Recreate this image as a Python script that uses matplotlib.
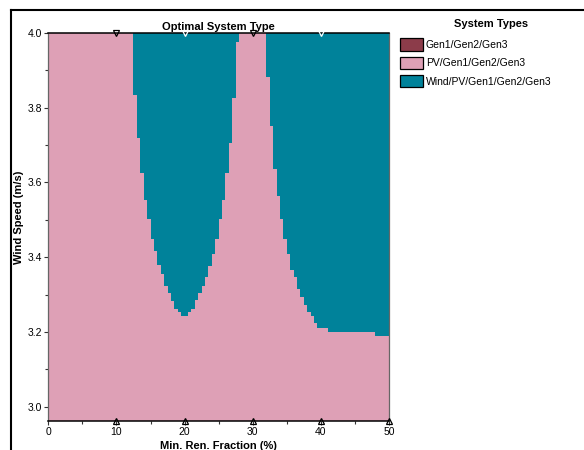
import matplotlib
matplotlib.use("Agg")
import matplotlib.pyplot as plt
from matplotlib.patches import Patch
from matplotlib.lines import Line2D

plt.rcParams['font.family'] = ['Liberation Sans', 'DejaVu Sans']

# ---- data ----
title = "Optimal System Type"
x_label = "Min. Ren. Fraction (%)"
y_label = "Wind Speed (m/s)"
legend_title = "System Types"
system_types = ["Gen1/Gen2/Gen3", "PV/Gen1/Gen2/Gen3", "Wind/PV/Gen1/Gen2/Gen3"]

x_range = [0, 50]
y_range = [2.963, 4.0]

# Wind/PV/Gen region 1: column edges (Min. Ren. Fraction) and the lowest wind speed
# at which Wind/PV/Gen1/Gen2/Gen3 is optimal in each column
wind_a_edges = [12.5, 13.0, 13.5, 14.0, 14.5, 15.0, 15.5, 16.0, 16.5, 17.0, 17.5,
                18.0, 18.5, 19.0, 19.5, 20.5, 21.0, 21.5, 22.0, 22.5, 23.0, 23.5,
                24.0, 24.5, 25.0, 25.5, 26.0, 26.5, 27.0, 27.5, 28.0]
wind_a_min_speed = [3.833, 3.718, 3.626, 3.553, 3.502, 3.448, 3.417, 3.379, 3.355,
                    3.324, 3.303, 3.284, 3.261, 3.253, 3.243, 3.253, 3.262, 3.285,
                    3.305, 3.323, 3.348, 3.377, 3.408, 3.448, 3.502, 3.553, 3.626,
                    3.706, 3.825, 3.976]

# Wind/PV/Gen region 2
wind_b_edges = [32.0, 32.5, 33.0, 33.5, 34.0, 34.5, 35.0, 35.5, 36.0, 36.5, 37.0,
                37.5, 38.0, 38.5, 39.0, 39.5, 41.0, 48.0, 50.0]
wind_b_min_speed = [3.882, 3.751, 3.637, 3.564, 3.503, 3.448, 3.408, 3.367, 3.346,
                    3.316, 3.293, 3.272, 3.253, 3.243, 3.223, 3.212, 3.200, 3.189]

# sensitivity case markers
top_marker_x = [10, 20, 30, 40]
bottom_marker_x = [10, 20, 30, 40, 50]

x_ticks = [0, 10, 20, 30, 40, 50]
y_ticks = [3.0, 3.2, 3.4, 3.6, 3.8, 4.0]

# ---- styles ----
c_gen = "#8C3C4A"
c_pv = "#DEA0B6"
c_wind = "#00829A"

W, H = 584, 450
fig = plt.figure(figsize=(W / 100, H / 100), dpi=100)
ax_l, ax_r, ax_t, ax_b = 48.3, 389.0, 32.7, 420.7
ax = fig.add_axes([ax_l / W, 1 - ax_b / H, (ax_r - ax_l) / W, (ax_b - ax_t) / H])

ax.set_facecolor(c_pv)
ax.stairs(wind_a_min_speed, wind_a_edges, baseline=y_range[1], fill=True,
          color=c_wind, linewidth=0)
ax.stairs(wind_b_min_speed, wind_b_edges, baseline=y_range[1], fill=True,
          color=c_wind, linewidth=0)

ax.set_xlim(*x_range)
ax.set_ylim(*y_range)

# markers
top_edges = ['black', 'white', 'black', 'white']
for xv, ec in zip(top_marker_x, top_edges):
    ax.plot([xv], [y_range[1]], marker='v', ms=4.5, mfc='none', mec=ec, mew=0.9,
            clip_on=False, zorder=5)
for xv in bottom_marker_x:
    ax.plot([xv], [y_range[0]], marker='^', ms=4.5, mfc='none', mec='black', mew=0.9,
            clip_on=False, zorder=5)

ax.set_xticks(x_ticks)
ax.set_xticks([5, 15, 25, 35, 45], minor=True)
ax.set_yticks(y_ticks)
ax.set_yticks([3.1, 3.3, 3.5, 3.7, 3.9], minor=True)
ax.set_yticklabels([f"{v:.1f}" for v in y_ticks])
ax.tick_params(axis='both', which='major', direction='out', length=3, width=0.8,
               labelsize=7.5, pad=1.5, color='#333333')
ax.tick_params(axis='both', which='minor', direction='out', length=2, width=0.8,
               color='#333333')

for side in ['left', 'right']:
    ax.spines[side].set_color('#666666')
    ax.spines[side].set_linewidth(0.9)
for side in ['top', 'bottom']:
    ax.spines[side].set_color('black')
    ax.spines[side].set_linewidth(1.1)

ax.set_title(title, fontsize=8, fontweight='bold', pad=2)
ax.set_xlabel(x_label, fontsize=8, fontweight='bold', labelpad=3)
ax.set_ylabel(y_label, fontsize=8, fontweight='bold')
ax.yaxis.set_label_coords(-0.072, 0.525)

# legend
handles = [Patch(facecolor=c, edgecolor='black', linewidth=0.9)
           for c in [c_gen, c_pv, c_wind]]
fig.legend(handles, system_types, loc='upper left',
           bbox_to_anchor=(400 / W, 1 - 38.5 / H), frameon=False, fontsize=7.5,
           handlelength=2.18, handleheight=1.44, labelspacing=0.58,
           handletextpad=0.3, borderpad=0, borderaxespad=0)
fig.text(491 / W, 1 - 24 / H, legend_title, fontsize=8, fontweight='bold',
         ha='center', va='center')

# outer frame lines
fig.add_artist(Line2D([11 / W, 11 / W], [0, 1 - 9.5 / H], color='black', lw=1.5,
                      transform=fig.transFigure))
fig.add_artist(Line2D([11 / W, 1], [1 - 9.5 / H, 1 - 9.5 / H], color='black', lw=1.5,
                      transform=fig.transFigure))

fig.savefig("out.png", dpi=100)
